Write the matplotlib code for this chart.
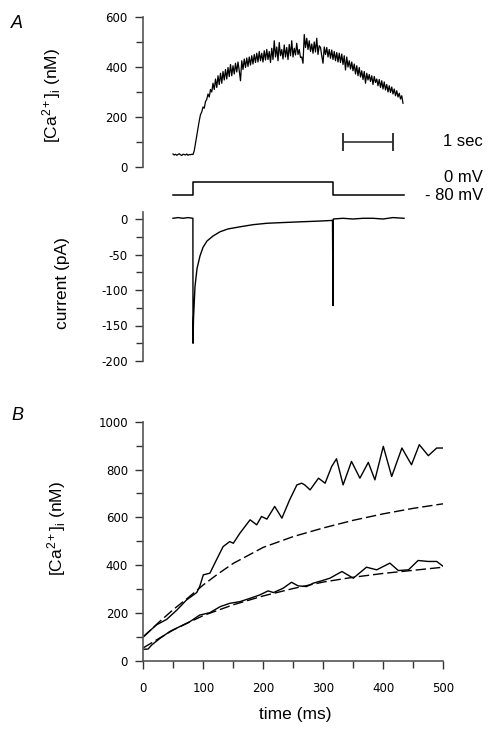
import numpy as np
import matplotlib
matplotlib.use('Agg')
import matplotlib.pyplot as plt
from matplotlib.ticker import MultipleLocator

plt.rcParams['font.family'] = ['Liberation Sans', 'DejaVu Sans']
plt.rcParams['mathtext.fontset'] = 'custom'
plt.rcParams['mathtext.rm'] = 'Liberation Sans'
plt.rcParams['mathtext.it'] = 'Liberation Sans:italic'
plt.rcParams['axes.unicode_minus'] = False

# ---------------- Panel A data ----------------
ca_dt_s = 0.025  # sampling interval of the Ca trace (s)
ca_A_nM = [
    52, 48, 51, 47, 50, 53, 49, 46, 51, 50, 48, 52, 47, 50, 49, 51, 50,
    65, 95, 125, 155, 185, 210, 220, 240, 235, 262, 270, 292, 280, 310, 300, 335,
    310, 352, 318, 365, 330, 375, 335, 382, 348, 390, 352, 398, 362, 410, 365, 405,
    372, 415, 380, 420, 385, 345, 425, 390, 432, 398, 436, 402, 440, 408, 445, 412,
    450, 418, 455, 420, 462, 425, 455, 420, 465, 428, 470, 430, 462, 418, 475, 430,
    505, 440, 480, 425, 498, 445, 470, 432, 488, 440, 478, 430, 490, 445, 505, 440,
    475, 448, 495, 450, 470, 438, 440, 415, 530, 478, 515, 470, 505, 462, 492, 455,
    500, 460, 515, 450, 485, 478, 445, 415, 480, 450, 478, 440, 470, 435, 468, 430,
    462, 425, 458, 420, 455, 418, 452, 410, 445, 388, 440, 400, 425, 392, 420, 385,
    412, 372, 405, 365, 398, 360, 385, 350, 382, 335, 375, 348, 370, 342, 365, 330,
    362, 338, 352, 325, 350, 318, 345, 312, 340, 308, 330, 300, 325, 298, 320, 292,
    312, 285, 305, 280, 295, 272, 285, 255,
]
volt_t_s = [0.0, 0.4, 3.2, 4.62]
volt_mV = [-80, 0, -80, -80]
current_t_s = [0.0, 0.1, 0.2, 0.3, 0.398, 0.40, 0.41, 0.44, 0.48, 0.54,
               0.60, 0.68, 0.80, 0.94, 1.10, 1.34, 1.60, 1.88, 2.20, 2.54,
               2.90, 3.19, 3.20, 3.205, 3.4, 3.6, 3.8, 4.0, 4.2, 4.4, 4.62]
current_pA = [1, 2, 1, 2, 1, -175, -140, -95, -70, -52,
              -40, -31, -24, -18, -14, -11, -8, -6, -5, -4,
              -3, -2, -122, 0, 1, 0, 1, 1, 0, 2, 1]
scalebar_s = [3.4, 4.4]
scalebar_nM = 100

# ---------------- Panel B data ----------------
t_up_ms = [0, 22, 39, 56, 72, 89, 94, 100, 111, 122, 133, 144, 150, 161, 178,
           189, 197, 206, 219, 231, 244, 256, 264, 269, 278, 292, 303, 314, 322,
           333, 347, 361, 375, 386, 400, 414, 431, 447, 460, 475, 489, 500]
ca_up_nM = [102, 151, 174, 213, 255, 286, 311, 360, 367, 423, 478, 499, 492, 534, 590,
            569, 604, 593, 646, 597, 674, 736, 743, 736, 715, 764, 743, 813, 845,
            736, 834, 764, 830, 757, 897, 771, 890, 820, 904, 858, 890, 890]
fit_up_t_ms = [0, 25, 50, 75, 100, 125, 150, 200, 250, 300, 350, 400, 450, 500]
fit_up_nM = [100, 160, 215, 265, 318, 365, 408, 475, 520, 556, 588, 615, 638, 657]
t_lo_ms = [0, 8, 14, 28, 44, 61, 78, 94, 111, 128, 144, 161, 178, 194, 208, 217,
           233, 247, 258, 272, 283, 297, 311, 331, 350, 372, 389, 411, 425, 442,
           458, 475, 489, 500]
ca_lo_nM = [49, 50, 67, 95, 123, 144, 165, 192, 202, 227, 241, 248, 262, 276, 293, 286,
            304, 329, 314, 311, 325, 335, 346, 374, 346, 392, 381, 409, 378, 381,
            420, 416, 416, 395]
fit_lo_t_ms = [0, 50, 100, 150, 200, 250, 300, 350, 400, 450, 500]
fit_lo_nM = [55, 130, 190, 235, 272, 303, 330, 350, 366, 379, 392]

# ---------------- figure ----------------
W, H = 502, 740
fig = plt.figure(figsize=(W / 100, H / 100), dpi=100)


def fx(px):
    return px / W


def fy(py):
    return 1 - py / H


spine_c = '#555555'
tick_font = dict(family='DejaVu Sans', size=8.5)
label_size = 12.5
line_kw = dict(color='black', lw=1.1)


def style_left(ax):
    for s in ['top', 'right', 'bottom']:
        ax.spines[s].set_visible(False)
    ax.spines['left'].set_color(spine_c)
    ax.spines['left'].set_linewidth(1.2)
    ax.tick_params(axis='y', which='major', length=6, width=1, color='#333333', pad=5)
    ax.tick_params(axis='y', which='minor', length=5, width=1, color='#333333')
    ax.set_xticks([])
    ax.patch.set_alpha(0)


xlimA = (-0.6, 6.54)

# Ca trace (A)
axA = fig.add_axes([fx(143), fy(167), fx(357), 150 / H])
tA = np.arange(len(ca_A_nM)) * ca_dt_s
axA.plot(tA, ca_A_nM, color='black', lw=0.9)
axA.set_xlim(*xlimA)
axA.set_ylim(0, 600)
style_left(axA)
axA.yaxis.set_major_locator(MultipleLocator(200))
axA.yaxis.set_minor_locator(MultipleLocator(100))
for lab in axA.get_yticklabels():
    lab.set_fontproperties(tick_font)
axA.set_ylabel(r'[Ca$^{2+}$]$_{\mathrm{i}}$ (nM)', fontsize=label_size)
axA.yaxis.label.set_verticalalignment('center')
axA.yaxis.set_label_coords((52 - 143) / 357, (167 - 95) / 150)
# scale bar
axA.plot(scalebar_s, [scalebar_nM, scalebar_nM], color='#333333', lw=1.2, clip_on=False)
for sx in scalebar_s:
    axA.plot([sx, sx], [scalebar_nM - 32, scalebar_nM + 32], color='#333333', lw=1.4,
             clip_on=False)
fig.text(fx(483), fy(142), '1 sec', ha='right', va='center', fontsize=12)

# Voltage step
axV = fig.add_axes([fx(143), fy(195), fx(357), 13 / H])
axV.plot(volt_t_s, volt_mV, drawstyle='steps-post', clip_on=False, **line_kw)
axV.set_xlim(*xlimA)
axV.set_ylim(-80, 0)
axV.axis('off')
fig.text(fx(483), fy(177), '0 mV', ha='right', va='center', fontsize=12)
fig.text(fx(483), fy(195), '- 80 mV', ha='right', va='center', fontsize=12)

# Current
axI = fig.add_axes([fx(143), fy(361), fx(357), (361 - 211.9) / H])
axI.plot(current_t_s, current_pA, color='black', lw=1.0)
axI.set_xlim(*xlimA)
axI.set_ylim(-200, 10)
style_left(axI)
axI.yaxis.set_major_locator(MultipleLocator(50))
axI.yaxis.set_minor_locator(MultipleLocator(25))
for lab in axI.get_yticklabels():
    lab.set_fontproperties(tick_font)
axI.set_ylabel('current (pA)', fontsize=label_size)
axI.yaxis.label.set_verticalalignment('center')
axI.yaxis.set_label_coords((62 - 143) / 357, (361 - 283) / (361 - 211.9))

# Panel B
axB = fig.add_axes([fx(143.3), fy(661), fx(300), 239.3 / H])
axB.plot(t_up_ms, ca_up_nM, color='black', lw=1.0)
axB.plot(t_lo_ms, ca_lo_nM, color='black', lw=1.0)
axB.plot(fit_up_t_ms, fit_up_nM, color='black', lw=1.0, dashes=(7.5, 2.8))
axB.plot(fit_lo_t_ms, fit_lo_nM, color='black', lw=1.0, dashes=(7.5, 2.8))
axB.set_xlim(0, 500)
axB.set_ylim(0, 1000)
for s in ['top', 'right']:
    axB.spines[s].set_visible(False)
for s in ['left', 'bottom']:
    axB.spines[s].set_color(spine_c)
    axB.spines[s].set_linewidth(1.2)
axB.patch.set_alpha(0)
axB.xaxis.set_major_locator(MultipleLocator(100))
axB.xaxis.set_minor_locator(MultipleLocator(50))
axB.yaxis.set_major_locator(MultipleLocator(200))
axB.yaxis.set_minor_locator(MultipleLocator(100))
axB.tick_params(which='major', length=6, width=1, color='#333333')
axB.tick_params(which='minor', length=5, width=1, color='#333333')
axB.tick_params(axis='x', pad=9)
axB.tick_params(axis='y', pad=5)
for lab in axB.get_yticklabels() + axB.get_xticklabels():
    lab.set_fontproperties(tick_font)
axB.set_ylabel(r'[Ca$^{2+}$]$_{\mathrm{i}}$ (nM)', fontsize=label_size)
axB.yaxis.label.set_verticalalignment('center')
axB.yaxis.set_label_coords((57 - 143.3) / 300, (661 - 528) / 239.3)
axB.set_xlabel('time (ms)', fontsize=label_size)
axB.xaxis.label.set_verticalalignment('center')
axB.xaxis.set_label_coords((295 - 143.3) / 300, (661 - 714) / 239.3)

# Panel letters
fig.text(fx(17), fy(24), 'A', ha='center', va='center', fontsize=13, style='italic')
fig.text(fx(17), fy(415), 'B', ha='center', va='center', fontsize=13, style='italic')

fig.savefig('out.png', dpi=100)
